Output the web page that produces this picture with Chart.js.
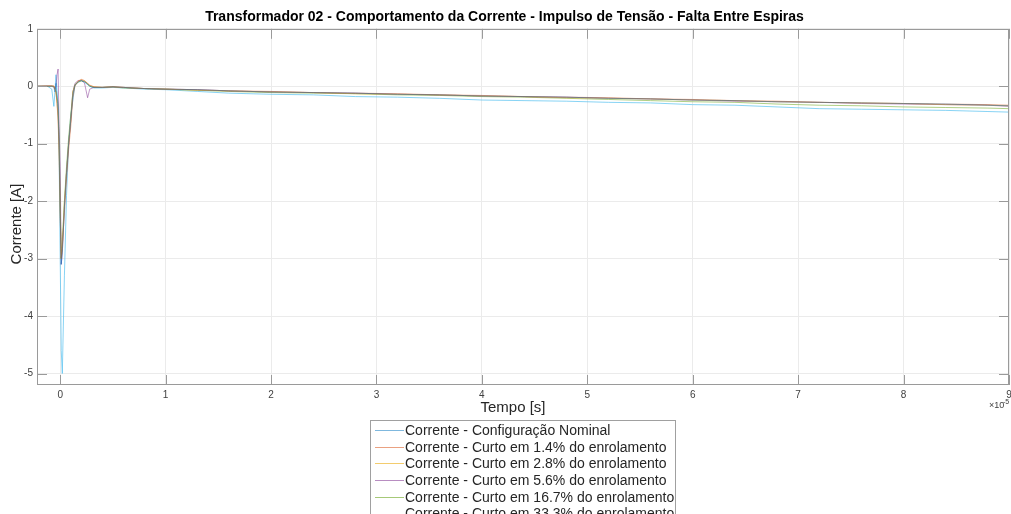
<!DOCTYPE html>
<html><head><meta charset="utf-8">
<script src="https://cdn.jsdelivr.net/npm/chart.js@4.4.1/dist/chart.umd.min.js"></script>
<style>html,body{margin:0;padding:0;background:#fff;overflow:hidden}#wrap{width:1011px;height:514px;position:relative}</style>
</head><body><div id="wrap"><canvas id="c" width="1011" height="514"></canvas></div>
<script>
// time in units of 1e-5 s
const tempo = [-0.22,-0.12,-0.08,-0.06,-0.05,-0.04,-0.03,-0.02,-0.01,0,0.01,0.02,0.04,0.06,0.08,0.10,0.12,0.14,0.17,0.20,0.23,0.26,0.28,0.32,
  0.4,0.5,0.6,0.8,1.0,1.3,1.6,2.0,2.4,2.8,3.2,3.6,4.0,4.4,4.8,5.2,5.6,6.0,6.4,6.8,7.2,7.6,8.0,8.4,8.8,9.0];
const nominal = [0,0,0,-0.02,-0.1,0.05,-0.2,-0.4,-1.0,-2.2,-3.1,-2.9,-2.1,-1.5,-1.0,-0.6,-0.15,0.02,0.07,0.1,0.08,0.04,0.0,-0.02,
  -0.02,-0.01,-0.02,-0.04,-0.05,-0.06,-0.08,-0.10,-0.11,-0.12,-0.14,-0.15,-0.17,-0.18,-0.19,-0.21,-0.22,-0.24,-0.25,-0.27,-0.28,-0.29,-0.30,-0.31,-0.33,-0.34];
const curto14 = [0,0.01,0.01,0,-0.05,-0.1,-0.3,-0.6,-1.2,-2.3,-3.0,-2.8,-2.2,-1.6,-1.1,-0.7,-0.2,0.0,0.09,0.12,0.1,0.05,0.02,-0.01,
  -0.02,-0.01,-0.02,-0.04,-0.05,-0.06,-0.08,-0.09,-0.11,-0.12,-0.13,-0.15,-0.16,-0.18,-0.19,-0.20,-0.22,-0.23,-0.25,-0.26,-0.28,-0.29,-0.30,-0.31,-0.32,-0.33];
const curto28 = [0,0,0,0,-0.05,-0.1,-0.3,-0.5,-1.1,-2.2,-3.0,-2.8,-2.0,-1.5,-1.0,-0.6,-0.1,0.03,0.08,0.11,0.09,0.05,0.01,-0.01,
  -0.02,-0.01,-0.02,-0.04,-0.05,-0.07,-0.08,-0.10,-0.11,-0.13,-0.14,-0.15,-0.17,-0.18,-0.20,-0.21,-0.22,-0.24,-0.25,-0.27,-0.28,-0.29,-0.30,-0.32,-0.33,-0.34];
const curto56 = [0,0,0,0,-0.05,0,0.2,0.3,-0.7,-1.4,-3.1,-2.9,-2.1,-1.5,-1.0,-0.6,-0.1,0.05,0.1,0.1,0.06,-0.2,-0.05,-0.02,
  -0.02,-0.01,-0.02,-0.04,-0.05,-0.06,-0.08,-0.10,-0.11,-0.12,-0.14,-0.15,-0.17,-0.18,-0.19,-0.21,-0.22,-0.24,-0.26,-0.27,-0.28,-0.30,-0.31,-0.32,-0.33,-0.35];
const curto167 = [0,0,0,0,-0.03,-0.1,-0.2,-0.3,-0.9,-2.0,-3.0,-2.7,-2.0,-1.4,-0.9,-0.5,-0.1,0.02,0.07,0.09,0.08,0.04,0.0,-0.02,
  -0.02,-0.01,-0.03,-0.04,-0.05,-0.07,-0.09,-0.11,-0.12,-0.13,-0.15,-0.16,-0.18,-0.19,-0.21,-0.23,-0.25,-0.27,-0.28,-0.31,-0.33,-0.34,-0.36,-0.37,-0.38,-0.39];
const curto333 = [0,0,-0.05,-0.35,-0.1,0.2,-0.1,-0.3,-1.2,-3.0,-4.6,-5.0,-3.3,-1.9,-1.0,-0.5,-0.25,0.03,0.08,0.1,0.07,0.03,0.0,-0.03,
  -0.03,-0.02,-0.03,-0.05,-0.06,-0.09,-0.12,-0.14,-0.15,-0.18,-0.19,-0.21,-0.24,-0.25,-0.26,-0.28,-0.29,-0.32,-0.33,-0.36,-0.39,-0.40,-0.41,-0.42,-0.44,-0.45];

const seriesNames = ['Corrente - Configuração Nominal','Corrente - Curto em 1.4% do enrolamento','Corrente - Curto em 2.8% do enrolamento',
  'Corrente - Curto em 5.6% do enrolamento','Corrente - Curto em 16.7% do enrolamento','Corrente - Curto em 33.3% do enrolamento'];
const seriesValues = [nominal, curto14, curto28, curto56, curto167, curto333];
const seriesColors = ['rgba(0,114,189,0.5)','rgba(217,83,25,0.55)','rgba(237,177,32,0.65)','rgba(126,47,142,0.55)','rgba(119,172,48,0.65)','rgba(77,190,238,0.75)'];
const xTicks = [0,1,2,3,4,5,6,7,8,9];
const yTicks = [1,0,-1,-2,-3,-4,-5];
const xTitle = 'Tempo [s]';
const yTitle = 'Corrente [A]';

const FONT = '"Liberation Sans", Arial, Helvetica, sans-serif';
Chart.defaults.font.family = FONT;

const frameAndLegend = {
  id: 'frameAndLegend',
  afterDraw(chart) {
    const ctx = chart.ctx, ca = chart.chartArea;
    const xs = chart.scales.x, ys = chart.scales.y;
    ctx.save();
    ctx.strokeStyle = '#9a9a9a';
    ctx.lineWidth = 1;
    ctx.strokeRect(Math.round(ca.left)+0.5, Math.round(ca.top)+0.5, Math.round(ca.right-ca.left)-1, Math.round(ca.bottom-ca.top)-1);
    ctx.beginPath();
    xTicks.forEach(v => {
      const px = Math.round(xs.getPixelForValue(v)) + 0.5;
      ctx.moveTo(px, ca.bottom); ctx.lineTo(px, ca.bottom - 10);
      ctx.moveTo(px, ca.top); ctx.lineTo(px, ca.top + 10);
    });
    yTicks.forEach(v => {
      const py = Math.round(ys.getPixelForValue(v)) + 0.5;
      ctx.moveTo(ca.left, py); ctx.lineTo(ca.left + 10, py);
      ctx.moveTo(ca.right, py); ctx.lineTo(ca.right - 10, py);
    });
    ctx.stroke();
    // axis titles
    ctx.fillStyle = '#262626';
    ctx.textBaseline = 'middle';
    ctx.textAlign = 'center';
    ctx.font = '15px ' + FONT;
    ctx.fillText(xTitle, 513, 408);
    ctx.save();
    ctx.translate(17, 224);
    ctx.rotate(-Math.PI / 2);
    ctx.fillText(yTitle, 0, 0);
    ctx.restore();
    // exponent
    ctx.fillStyle = '#404040';
    ctx.textAlign = 'left';
    ctx.font = '9px ' + FONT;
    ctx.fillText('×10', 989, 406);
    ctx.font = '7px ' + FONT;
    ctx.fillText('-5', 1003, 402);
    // legend
    const lx = 370, ly = 420, lw = 305;
    ctx.fillStyle = '#fff';
    ctx.fillRect(lx, ly, lw, 120);
    ctx.strokeStyle = '#a0a0a0';
    ctx.strokeRect(lx + 0.5, ly + 0.5, lw, 120);
    ctx.font = '14px ' + FONT;
    seriesNames.forEach((name, i) => {
      const y = 430 + i * 16.7;
      ctx.strokeStyle = seriesColors[i];
      ctx.beginPath();
      ctx.moveTo(375, Math.round(y) + 0.5); ctx.lineTo(404, Math.round(y) + 0.5);
      ctx.stroke();
      ctx.fillStyle = '#262626';
      ctx.fillText(name, 405, y + 1);
    });
    ctx.restore();
  }
};

new Chart(document.getElementById('c'), {
  type: 'line',
  data: {
    datasets: seriesValues.map((vals, i) => ({
      label: seriesNames[i],
      data: vals.map((v, k) => ({x: tempo[k], y: v})),
      borderColor: seriesColors[i],
      borderWidth: 0.9,
      pointRadius: 0,
      fill: false,
      tension: 0
    }))
  },
  options: {
    responsive: false,
    animation: false,
    devicePixelRatio: 1,
    layout: {padding: {left: 0, right: 2, top: 0, bottom: 94}},
    plugins: {
      legend: {display: false},
      tooltip: {enabled: false},
      title: {display: true, text: 'Transformador 02 - Comportamento da Corrente - Impulso de Tensão - Falta Entre Espiras',
        font: {size: 14, weight: 'bold'}, color: '#000', padding: {top: 9, bottom: 3}}
    },
    scales: {
      x: {
        type: 'linear', min: -0.22, max: 9,
        afterBuildTicks: s => { s.ticks = xTicks.map(v => ({value: v})); },
        afterFit: s => { s.height = 35; s.paddingLeft = 0; s.paddingRight = 0; },
        ticks: {font: {size: 10}, color: '#404040', padding: 4, maxRotation: 0, autoSkip: false},
        grid: {color: '#ebebeb', drawTicks: false},
        border: {display: false}
      },
      y: {
        type: 'linear', min: -5.2, max: 1,
        afterBuildTicks: s => { s.ticks = yTicks.map(v => ({value: v})); },
        afterFit: s => { s.width = 37; s.paddingTop = 0; s.paddingBottom = 0; },
        ticks: {font: {size: 10}, color: '#404040', padding: 4},
        grid: {color: '#ebebeb', drawTicks: false},
        border: {display: false}
      }
    }
  },
  plugins: [frameAndLegend]
});
</script></body></html>
